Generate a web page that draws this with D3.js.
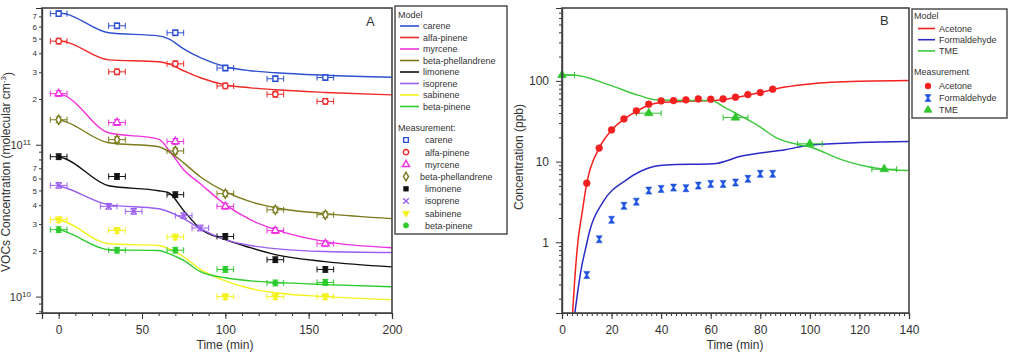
<!DOCTYPE html>
<html>
<head>
<meta charset="utf-8">
<script src="https://cdn.jsdelivr.net/npm/d3@7"></script>
<style>
  body { margin: 0; background: #fff; }
  text { font-family: "Liberation Sans", Arial, sans-serif; fill: #333; }
</style>
</head>
<body>
<svg id="chart" width="1010" height="353"></svg>
<script>
// ---------- panel A data ----------
var vocNames = ["carene", "alfa-pinene", "myrcene", "beta-phellandrene", "limonene", "isoprene", "sabinene", "beta-pinene"];
var vocColors = ["#2f50d0", "#f02828", "#f030e0", "#7a7a1c", "#111111", "#9a5ff0", "#f4f21c", "#2ccb2c"];
var vocSymbols = ["squareOpen", "circleOpen", "triangleOpen", "diamondOpen", "square", "times", "triangleDown", "circle"];

var modelTimeA = [0, 4, 30, 60, 66, 75, 85, 100, 115, 130, 160, 200];
var modelCarene = [7.38e11, 7.27e11, 5.46e11, 5.21e11, 4.98e11, 4.28e11, 3.74e11, 3.26e11, 3.07e11, 2.98e11, 2.87e11, 2.78e11];
var modelAlfaPinene = [4.83e11, 4.76e11, 3.62e11, 3.52e11, 3.41e11, 3.07e11, 2.76e11, 2.48e11, 2.37e11, 2.30e11, 2.21e11, 2.13e11];
var modelMyrcene = [2.17e11, 2.10e11, 1.20e11, 1.09e11, 9.27e10, 6.85e10, 5.54e10, 4.03e10, 3.21e10, 2.76e10, 2.30e10, 2.10e10];
var modelBetaPhellandrene = [1.46e11, 1.42e11, 1.03e11, 9.7e10, 9.0e10, 7.6e10, 6.15e10, 4.91e10, 4.22e10, 3.85e10, 3.52e10, 3.26e10];
var modelLimonene = [8.34e10, 8.09e10, 5.37e10, 4.98e10, 4.83e10, 3.68e10, 2.80e10, 2.37e10, 2.10e10, 1.89e10, 1.70e10, 1.57e10];
var modelIsoprene = [5.37e10, 5.21e10, 4.03e10, 3.79e10, 3.62e10, 3.26e10, 2.80e10, 2.37e10, 2.17e10, 2.07e10, 1.98e10, 1.95e10];
var modelSabinene = [3.21e10, 3.11e10, 2.23e10, 2.17e10, 2.07e10, 1.83e10, 1.51e10, 1.27e10, 1.13e10, 1.06e10, 1.00e10, 9.55e9];
var modelBetaPinene = [2.76e10, 2.68e10, 2.04e10, 2.01e10, 1.92e10, 1.73e10, 1.46e10, 1.33e10, 1.27e10, 1.24e10, 1.20e10, 1.16e10];

var measTimeA = [0, 35, 70, 100, 130, 160];
var measTimeIsoprene = [0, 30, 45, 75, 85];
var measCarene = [7.3e11, 6.07e11, 5.46e11, 3.2e11, 2.72e11, 2.77e11];
var measAlfaPinene = [4.81e11, 3.02e11, 3.41e11, 2.44e11, 2.15e11, 1.93e11];
var measMyrcene = [2.17e11, 1.40e11, 1.05e11, 3.93e10, 2.72e10, 2.23e10];
var measBetaPhellandrene = [1.46e11, 1.08e11, 9.1e10, 4.76e10, 3.73e10, 3.46e10];
var measLimonene = [8.34e10, 6.18e10, 4.69e10, 2.49e10, 1.75e10, 1.51e10];
var measIsoprene = [5.40e10, 3.93e10, 3.64e10, 3.41e10, 2.83e10];
var measSabinene = [3.21e10, 2.73e10, 2.47e10, 1.0e10, 1.0e10, 1.0e10];
var measBetaPinene = [2.76e10, 2.02e10, 2.02e10, 1.51e10, 1.23e10, 1.24e10];

var xTicksA = [0, 50, 100, 150, 200];
var yMajorA = [1e10, 1e11];
var yMinorLabelsA = [2, 3, 4, 5, 6, 7];

// ---------- panel B data ----------
var gasNames = ["Acetone", "Formaldehyde", "TME"];
var gasColors = ["#f42020", "#2a2ac8", "#3cc83c"];
var gasMarkColors = ["#f42020", "#1f55dd", "#2ec42e"];
var gasSymbols = ["circle", "hourglass", "triangle"];

var modelTimeAcetone = [4, 5.2, 6.5, 8, 10, 15, 20, 25, 30, 35, 40, 50, 60, 65, 70, 80, 90, 100, 120, 140];
var modelAcetone = [0.1, 0.37, 1.07, 2.2, 5.4, 14.7, 24.5, 33.5, 42, 50, 54, 56, 57, 58.5, 62, 72, 84, 91.8, 99, 101];
var modelTimeFormaldehyde = [5, 7.9, 9.4, 11.3, 16.7, 26, 37, 42, 61, 73, 80, 90, 100, 120, 140];
var modelFormaldehyde = [0.12, 0.495, 0.805, 1.43, 3.21, 5.93, 8.67, 9.1, 9.4, 11.8, 12.8, 14.0, 16.1, 17.2, 17.7];
var modelTimeTME = [0, 4.5, 19, 31, 38, 50, 60, 66, 72, 78, 87, 96, 100, 113, 127, 140];
var modelTME = [118.6, 118.6, 89.2, 66.1, 58.2, 57.3, 57.0, 46.3, 36.8, 29.3, 19.4, 16.1, 15.2, 10.5, 8.28, 7.73];

var measTimeB = [10, 15, 20, 25, 30, 35, 40, 45, 50, 55, 60, 65, 70, 75, 80, 85];
var measAcetone = [5.40, 14.7, 24.7, 33.8, 42.5, 51.4, 56.5, 57.0, 58.2, 59.8, 59.3, 59.8, 62.8, 67.6, 71.6, 78.9];
var measFormaldehyde = [0.394, 1.09, 1.90, 2.83, 3.19, 4.37, 4.59, 4.76, 4.68, 5.04, 5.29, 5.29, 5.50, 6.11, 7.05, 7.05];
var measTimeTME = [0, 35, 70, 100, 130];
var measTME = [118, 39.8, 35.1, 16.6, 8.05];

var xTicksB = [0, 20, 40, 60, 80, 100, 120, 140];
var yMajorB = [1, 10, 100];

// ---------- helpers ----------
var svg = d3.select("#chart");

function zip(ts, vs) { return ts.map(function(t, i) { return {t: t, v: vs[i]}; }); }

function logTicks(domain, mults) {
  var out = [];
  var lo = Math.floor(Math.log10(domain[0])), hi = Math.ceil(Math.log10(domain[1]));
  for (var e = lo; e <= hi; e++) {
    mults.forEach(function(m) {
      var v = m * Math.pow(10, e);
      if (v >= domain[0] && v <= domain[1]) out.push(v);
    });
  }
  return out;
}

function symbolPath(type, size) {
  if (type === "hourglass") return "M-3,-3.5H3L0.6,0L3,3.5H-3L-0.6,0Z";
  var map = {
    squareOpen: d3.symbolSquare, square: d3.symbolSquare,
    circleOpen: d3.symbolCircle, circle: d3.symbolCircle,
    triangleOpen: d3.symbolTriangle, triangle: d3.symbolTriangle, triangleDown: d3.symbolTriangle,
    diamondOpen: d3.symbolDiamond, times: d3.symbolTimes || d3.symbolCross
  };
  return d3.symbol().type(map[type]).size(size)();
}

function drawMarker(g, type, color, cx, cy, size) {
  var open = /Open$/.test(type);
  return g.append("path")
    .attr("d", symbolPath(type, size))
    .attr("transform", "translate(" + cx + "," + cy + ")" + (type === "triangleDown" ? " rotate(180)" : ""))
    .attr("fill", open ? "#fff" : (type === "times" ? "none" : color))
    .attr("stroke", color)
    .attr("stroke-width", open || type === "times" ? 1.4 : 0.6);
}

function styleAxis(g) {
  g.selectAll("path.domain").attr("stroke", "#333").attr("stroke-width", 1.2);
  g.selectAll(".tick line").attr("stroke", "#333").attr("stroke-width", 1);
}

// ---------- panel A ----------
var xA = d3.scaleLinear().domain([-10, 200]).range([42, 392]);
var yA = d3.scaleLog().domain([7.8e9, 7.95e11]).range([313, 8]);

var gA = svg.append("g");
svg.append("clipPath").attr("id", "clipA").append("rect").attr("x", 42).attr("y", 8).attr("width", 350).attr("height", 305);
svg.append("clipPath").attr("id", "clipB").append("rect").attr("x", 562).attr("y", 8).attr("width", 347).attr("height", 305);

var modelsA = [modelCarene, modelAlfaPinene, modelMyrcene, modelBetaPhellandrene, modelLimonene, modelIsoprene, modelSabinene, modelBetaPinene];
var measA = [measCarene, measAlfaPinene, measMyrcene, measBetaPhellandrene, measLimonene, measIsoprene, measSabinene, measBetaPinene];

var lineA = d3.line().x(function(d) { return xA(d.t); }).y(function(d) { return yA(d.v); }).curve(d3.curveMonotoneX);

var plotA = gA.append("g").attr("clip-path", "url(#clipA)");
modelsA.forEach(function(m, i) {
  plotA.append("path").datum(zip(modelTimeA, m))
    .attr("d", lineA).attr("fill", "none")
    .attr("stroke", vocColors[i]).attr("stroke-width", 1.4);
});

measA.forEach(function(m, i) {
  var ts = vocNames[i] === "isoprene" ? measTimeIsoprene : measTimeA;
  var pts = zip(ts, m);
  var eb = plotA.append("g").attr("stroke", vocColors[i]).attr("stroke-width", 1).attr("fill", "none");
  pts.forEach(function(p) {
    var cx = xA(p.t), cy = yA(p.v);
    var x0 = xA(p.t - 5), x1 = xA(p.t + 5);
    var y0 = yA(p.v * 1.045), y1 = yA(p.v / 1.045);
    eb.append("path").attr("d",
      "M" + x0 + "," + cy + "H" + x1 +
      "M" + x0 + "," + (cy - 3) + "V" + (cy + 3) +
      "M" + x1 + "," + (cy - 3) + "V" + (cy + 3) +
      "M" + cx + "," + y0 + "V" + y1 +
      "M" + (cx - 3) + "," + y0 + "H" + (cx + 3) +
      "M" + (cx - 3) + "," + y1 + "H" + (cx + 3));
    drawMarker(plotA, vocSymbols[i], vocColors[i], cx, cy, 24);
  });
});

// axes A
var axAMinor = gA.append("g").attr("transform", "translate(0,313)")
  .call(d3.axisBottom(xA).tickValues(d3.range(-10, 201, 10)).tickSize(3).tickFormat(""));
var axA = gA.append("g").attr("transform", "translate(0,313)")
  .call(d3.axisBottom(xA).tickValues(xTicksA).tickSize(6).tickPadding(6));
axA.selectAll("text").style("font-size", "12px").attr("fill", "#333");
styleAxis(axAMinor); styleAxis(axA);

var minorA = logTicks(yA.domain(), [2, 3, 4, 5, 6, 7, 8, 9]);
var ayMinor = gA.append("g").attr("transform", "translate(42,0)")
  .call(d3.axisLeft(yA).tickValues(minorA).tickSize(3).tickPadding(2)
    .tickFormat(function(v) {
      var m = Math.round(v / Math.pow(10, Math.floor(Math.log10(v) + 1e-9)));
      return yMinorLabelsA.indexOf(m) >= 0 ? String(m) : "";
    }));
ayMinor.selectAll("text").style("font-size", "8px").attr("fill", "#333");
var ayMajor = gA.append("g").attr("transform", "translate(42,0)")
  .call(d3.axisLeft(yA).tickValues(yMajorA).tickSize(6).tickFormat(""));
ayMajor.selectAll(".tick").each(function(v) {
  var t = d3.select(this).append("text").attr("x", -11).attr("dy", "0.35em")
    .attr("text-anchor", "end").style("font-size", "11px");
  t.append("tspan").text("10");
  t.append("tspan").attr("dy", "-0.5em").style("font-size", "8px").text(String(Math.round(Math.log10(v))));
});
styleAxis(ayMinor); styleAxis(ayMajor);

gA.append("rect").attr("x", 42).attr("y", 8).attr("width", 350).attr("height", 305)
  .attr("fill", "none").attr("stroke", "#444").attr("stroke-width", 1.6);

gA.append("text").attr("x", 366).attr("y", 26).style("font-size", "13px").text("A");
gA.append("text").attr("x", 225).attr("y", 349).attr("text-anchor", "middle").style("font-size", "12px").text("Time (min)");
var ytA = gA.append("text").attr("transform", "translate(10,172) rotate(-90)")
  .attr("text-anchor", "middle").style("font-size", "12px");
ytA.append("tspan").text("VOCs Concentration (molecular cm");
ytA.append("tspan").attr("dy", "-0.5em").style("font-size", "8px").text("-3");
ytA.append("tspan").attr("dy", "0.5em").text(")");

// legend A
var legA = gA.append("g");
legA.append("rect").attr("x", 395).attr("y", 6).attr("width", 112).attr("height", 228)
  .attr("fill", "#fff").attr("stroke", "#444").attr("stroke-width", 1.4);
legA.append("text").attr("x", 398).attr("y", 18).style("font-size", "9px").text("Model");
vocNames.forEach(function(n, i) {
  var y = 26 + i * 11.5;
  legA.append("line").attr("x1", 400).attr("x2", 419).attr("y1", y).attr("y2", y)
    .attr("stroke", vocColors[i]).attr("stroke-width", 1.6);
  legA.append("text").attr("x", 423).attr("y", y + 3.3).style("font-size", "9px").text(n);
});
legA.append("text").attr("x", 398).attr("y", 131).style("font-size", "9px").text("Measurement:");
vocNames.forEach(function(n, i) {
  var y = 140 + i * 12.2;
  drawMarker(legA, vocSymbols[i], vocColors[i], 406, y, 22);
  legA.append("text").attr("x", n === "beta-phellandrene" ? 420 : 425).attr("y", y + 3.3).style("font-size", "9px").text(n);
});

// ---------- panel B ----------
var xB = d3.scaleLinear().domain([0, 140]).range([562, 909]);
var yB = d3.scaleLog().domain([0.133, 800]).range([313, 8]);
var gB = svg.append("g");
var plotB = gB.append("g").attr("clip-path", "url(#clipB)");

var lineB = d3.line().x(function(d) { return xB(d.t); }).y(function(d) { return yB(d.v); }).curve(d3.curveMonotoneX);
var modelsB = [zip(modelTimeAcetone, modelAcetone), zip(modelTimeFormaldehyde, modelFormaldehyde), zip(modelTimeTME, modelTME)];
modelsB.forEach(function(m, i) {
  plotB.append("path").datum(m).attr("d", lineB).attr("fill", "none")
    .attr("stroke", gasColors[i]).attr("stroke-width", 1.5);
});

// TME error bars
var ebB = plotB.append("g").attr("stroke", gasMarkColors[2]).attr("stroke-width", 1).attr("fill", "none");
zip(measTimeTME, measTME).forEach(function(p) {
  var cx = xB(p.t), cy = yB(p.v), x0 = xB(p.t - 5), x1 = xB(p.t + 5);
  ebB.append("path").attr("d",
    "M" + x0 + "," + cy + "H" + x1 +
    "M" + x0 + "," + (cy - 3) + "V" + (cy + 3) +
    "M" + x1 + "," + (cy - 3) + "V" + (cy + 3));
});

var markB = gB.append("g");
zip(measTimeB, measAcetone).forEach(function(p) { drawMarker(markB, "circle", gasMarkColors[0], xB(p.t), yB(p.v), 36); });
zip(measTimeB, measFormaldehyde).forEach(function(p) { drawMarker(markB, "hourglass", gasMarkColors[1], xB(p.t), yB(p.v), 30); });
zip(measTimeTME, measTME).forEach(function(p) { drawMarker(markB, "triangle", gasMarkColors[2], xB(p.t), yB(p.v), 34); });

var bxMinor = gB.append("g").attr("transform", "translate(0,313)")
  .call(d3.axisBottom(xB).tickValues(d3.range(0, 141, 2)).tickSize(3).tickFormat(""));
var bx = gB.append("g").attr("transform", "translate(0,313)")
  .call(d3.axisBottom(xB).tickValues(xTicksB).tickSize(6).tickPadding(6));
bx.selectAll("text").style("font-size", "12px").attr("fill", "#333");
styleAxis(bxMinor); styleAxis(bx);

var byMinor = gB.append("g").attr("transform", "translate(562,0)")
  .call(d3.axisLeft(yB).tickValues(logTicks(yB.domain(), [2, 3, 4, 5, 6, 7, 8, 9])).tickSize(3).tickFormat(""));
var by = gB.append("g").attr("transform", "translate(562,0)")
  .call(d3.axisLeft(yB).tickValues(yMajorB).tickSize(6).tickPadding(7).tickFormat(d3.format("d")));
by.selectAll("text").style("font-size", "12px").attr("fill", "#333");
styleAxis(byMinor); styleAxis(by);

gB.append("rect").attr("x", 562).attr("y", 8).attr("width", 347).attr("height", 305)
  .attr("fill", "none").attr("stroke", "#444").attr("stroke-width", 1.6);

gB.append("text").attr("x", 880).attr("y", 25).style("font-size", "13px").text("B");
gB.append("text").attr("x", 735).attr("y", 349).attr("text-anchor", "middle").style("font-size", "12px").text("Time (min)");
gB.append("text").attr("transform", "translate(523,157) rotate(-90)").attr("text-anchor", "middle")
  .style("font-size", "12px").text("Concentration (ppb)");

// legend B
var legB = gB.append("g");
legB.append("rect").attr("x", 912).attr("y", 9).attr("width", 95).attr("height", 109)
  .attr("fill", "#fff").attr("stroke", "#444").attr("stroke-width", 1.4);
legB.append("text").attr("x", 914).attr("y", 19).style("font-size", "9px").text("Model");
gasNames.forEach(function(n, i) {
  var y = 28.5 + i * 11.2;
  legB.append("line").attr("x1", 918).attr("x2", 935).attr("y1", y).attr("y2", y)
    .attr("stroke", gasColors[i]).attr("stroke-width", 1.6);
  legB.append("text").attr("x", 939).attr("y", y + 3.3).style("font-size", "9px").text(n);
});
legB.append("text").attr("x", 914).attr("y", 75).style("font-size", "9px").text("Measurement");
gasNames.forEach(function(n, i) {
  var y = 86 + i * 12;
  drawMarker(legB, gasSymbols[i], gasMarkColors[i], 928, y, 28);
  legB.append("text").attr("x", 939).attr("y", y + 3.3).style("font-size", "9px").text(n);
});
</script>
</body>
</html>
